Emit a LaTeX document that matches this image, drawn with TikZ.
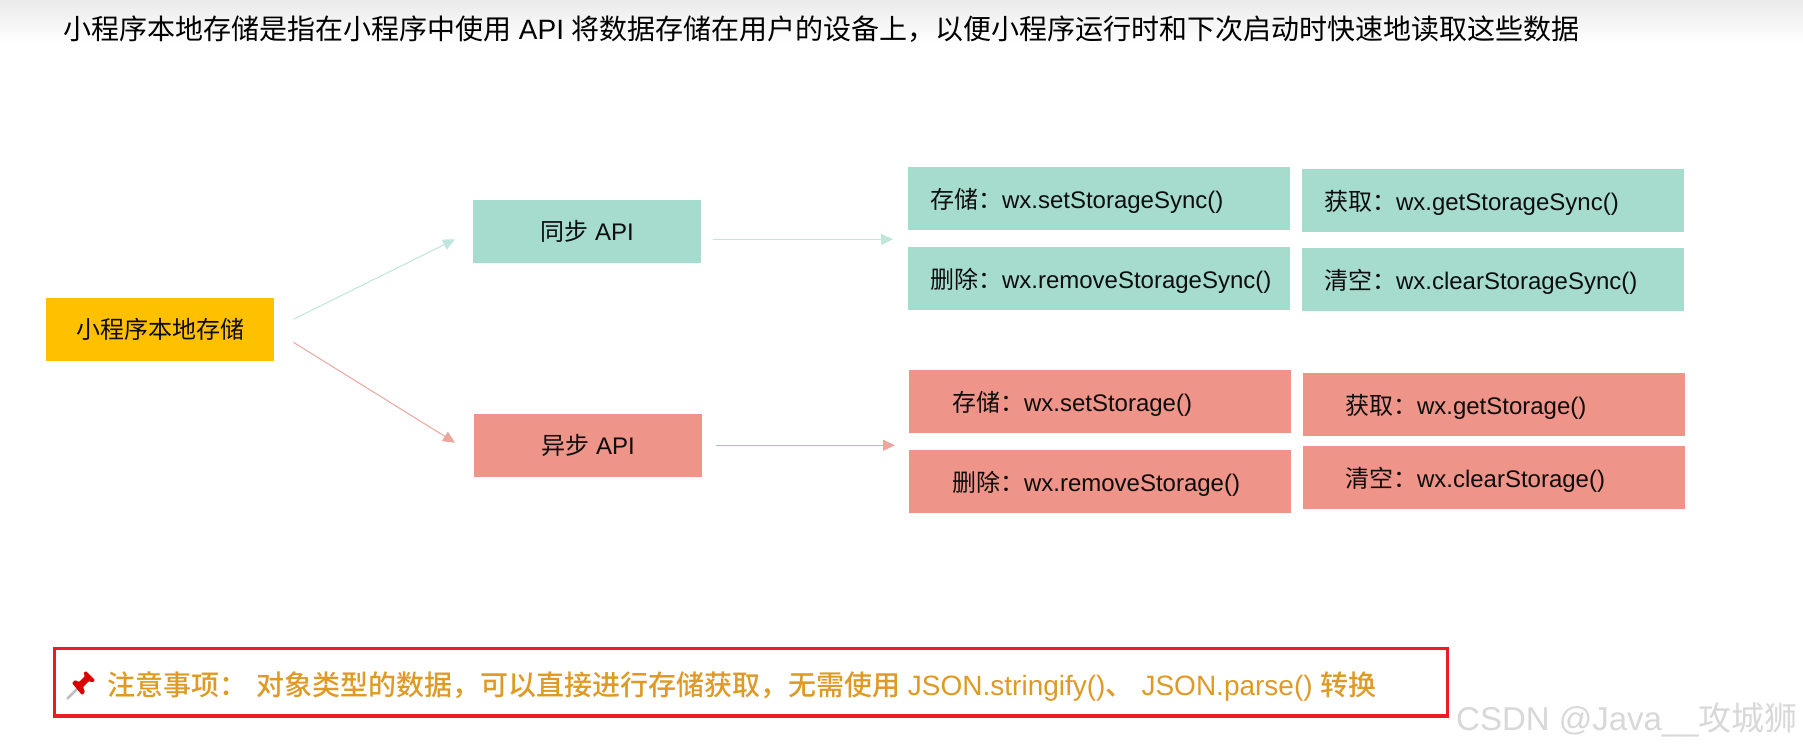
\documentclass[tikz,border=0pt]{standalone}
\usepackage{fontspec}
\setmainfont{Liberation Sans}
\newfontfamily\cjk{Noto Sans CJK SC}
\newfontfamily\cjkb{Noto Sans CJK SC Medium}[BoldFont={Noto Sans CJK SC Medium}]
\usetikzlibrary{arrows.meta}
\definecolor{mint}{HTML}{A5DCCE}
\definecolor{salmon}{HTML}{EE9488}
\definecolor{amber}{HTML}{FFC000}
\definecolor{mintline}{HTML}{BFE6DC}
\definecolor{salmonline}{HTML}{EBA79D}
\definecolor{noteorange}{HTML}{DF9A26}
\definecolor{notered}{HTML}{ED1C24}
\definecolor{mark}{HTML}{D8D8D8}
\tikzset{
  x=1pt,y=-1pt,
  boxbase/.style={draw=none,inner ysep=0pt,font=\fontsize{24}{28}\selectfont,text=black!95},
  mainbox/.style={boxbase,align=center,minimum width=228pt,minimum height=63pt,inner xsep=0pt},
  apibox/.style={boxbase,align=left,minimum height=63pt,minimum width=382pt,text width=382pt,inner xsep=0pt,text height=41.5pt,text depth=21.5pt},
  lnk/.style={line width=1pt,-{Triangle[length=12pt,width=11pt]}},
}
\newcommand{\apilabel}[3]{\hspace*{#1pt}{\cjk #2：}#3}
\begin{document}
\begin{tikzpicture}
\useasboundingbox (0,0) rectangle (1803,750);
\fill[white] (0,0) rectangle (1803,750);
\shade[top color=black!8,bottom color=white] (0,0) rectangle (1803,43);
\node[anchor=west,inner sep=0pt,font=\fontsize{28}{32}\selectfont] (title) at (63,29) {{\cjk 小程序本地存储是指在小程序中使用} API {\cjk 将数据存储在用户的设备上，以便小程序运行时和下次启动时快速地读取这些数据}};

\node[mainbox,fill=amber] (root) at (160,329.5) {\cjk 小程序本地存储};
\node[mainbox,fill=mint] (sync) at (587,231.5) {{\cjk 同步} API};
\node[mainbox,fill=salmon] (async) at (588,445.5) {{\cjk 异步} API};

\coordinate (s1) at (293.5,319.3); \coordinate (t1) at (455,239.3);
\coordinate (s2) at (293.5,342.3); \coordinate (t2) at (455,442.7);
\coordinate (s3) at (712.5,239.3); \coordinate (t3) at (893,239.3);
\coordinate (s4) at (715.5,445.3); \coordinate (t4) at (895,445.3);
\draw[lnk,mintline] (s1) -- (t1);
\draw[lnk,salmonline] (s2) -- (t2);
\draw[lnk,mintline] (s3) -- (t3);
\draw[lnk,salmonline] (s4) -- (t4);

\node[apibox,fill=mint] (g1) at (1099,198.5) {\apilabel{22}{存储}{wx.setStorageSync()}};
\node[apibox,fill=mint] (g2) at (1099,278.5) {\apilabel{22}{删除}{wx.removeStorageSync()}};
\node[apibox,fill=mint] (g3) at (1493,200.5) {\apilabel{22}{获取}{wx.getStorageSync()}};
\node[apibox,fill=mint] (g4) at (1493,279.5) {\apilabel{22}{清空}{wx.clearStorageSync()}};
\node[apibox,fill=salmon] (r1) at (1100,401.5) {\apilabel{43}{存储}{wx.setStorage()}};
\node[apibox,fill=salmon] (r2) at (1100,481) {\apilabel{43}{删除}{wx.removeStorage()}};
\node[apibox,fill=salmon] (r3) at (1494,404) {\apilabel{42}{获取}{wx.getStorage()}};
\node[apibox,fill=salmon] (r4) at (1494,477.5) {\apilabel{42}{清空}{wx.clearStorage()}};

\draw[notered,line width=3.5pt] (54.5,648.5) rectangle (1447.5,716);
% pin
\draw[black!25,line width=2.5pt,line cap=round] (67.5,698.5) -- (77,689);
\fill[red!85!black,rounded corners=1pt] (72,683) -- (75,680) -- (79,682) -- (85,676) -- (83.5,673) -- (86,671) -- (95,680) -- (92.5,682.5) -- (89,681) -- (83,687) -- (85,692) -- (82,695) -- cycle;
\node[anchor=west,inner sep=0pt,text=noteorange,font=\fontsize{28}{32}\selectfont] (note) at (107,686) {{\cjkb 注意事项：\hspace{9pt}对象类型的数据，可以直接进行存储获取，无需使用} JSON.stringify(){\cjkb 、}\hspace{8pt}JSON.parse() {\cjkb 转换}};
\node[anchor=west,inner sep=0pt,text=mark,font=\fontsize{33}{36}\selectfont] (wm) at (1456,720) {CSDN @Java\_\_{\cjk 攻城狮}};
\end{tikzpicture}
\end{document}
